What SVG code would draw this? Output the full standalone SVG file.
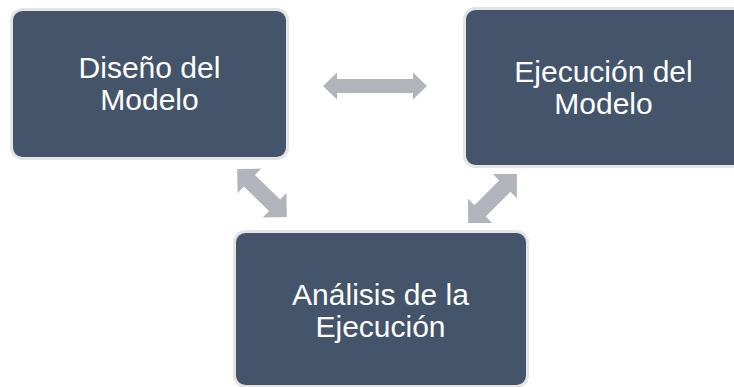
<svg xmlns="http://www.w3.org/2000/svg" width="734" height="387" viewBox="0 0 734 387">
<defs>
<style>
.box{fill:#44546a;stroke:#e4e4e4;stroke-width:3}
.lbl{fill:#ffffff;font-family:"Liberation Sans",Arial,sans-serif;font-size:30px;text-anchor:middle}
.arr{fill:#b1b4ba}
</style>
</defs>
<rect width="734" height="387" fill="#ffffff"/>
<g id="connectors">
<polygon class="arr" points="-52,0 -38,-13.5 -38,-7 38,-7 38,-13.5 52,0 38,13.5 38,7 -38,7 -38,13.5" transform="translate(375,86)"/>
<polygon class="arr" points="-34.5,0 -17.5,-17 -17.5,-8 17.5,-8 17.5,-17 34.5,0 17.5,17 17.5,8 -17.5,8 -17.5,17" transform="translate(262,193) rotate(44)"/>
<polygon class="arr" points="-34.5,0 -17.5,-17 -17.5,-8 17.5,-8 17.5,-17 34.5,0 17.5,17 17.5,8 -17.5,8 -17.5,17" transform="translate(492.5,198.5) rotate(-45)"/>
</g>
<g id="node-diseno">
<rect class="box" x="11.5" y="9.5" width="276" height="149" rx="11"/>
<text class="lbl" x="149.5" y="78">Diseño del</text>
<text class="lbl" x="149.5" y="110">Modelo</text>
</g>
<g id="node-ejecucion">
<rect class="box" x="464.5" y="8.5" width="290" height="158" rx="11"/>
<text class="lbl" x="603.5" y="82">Ejecución del</text>
<text class="lbl" x="603.5" y="114">Modelo</text>
</g>
<g id="node-analisis">
<rect class="box" x="234.5" y="231.5" width="293" height="155" rx="11"/>
<text class="lbl" x="380.5" y="305">Análisis de la</text>
<text class="lbl" x="380.5" y="337">Ejecución</text>
</g>
</svg>
